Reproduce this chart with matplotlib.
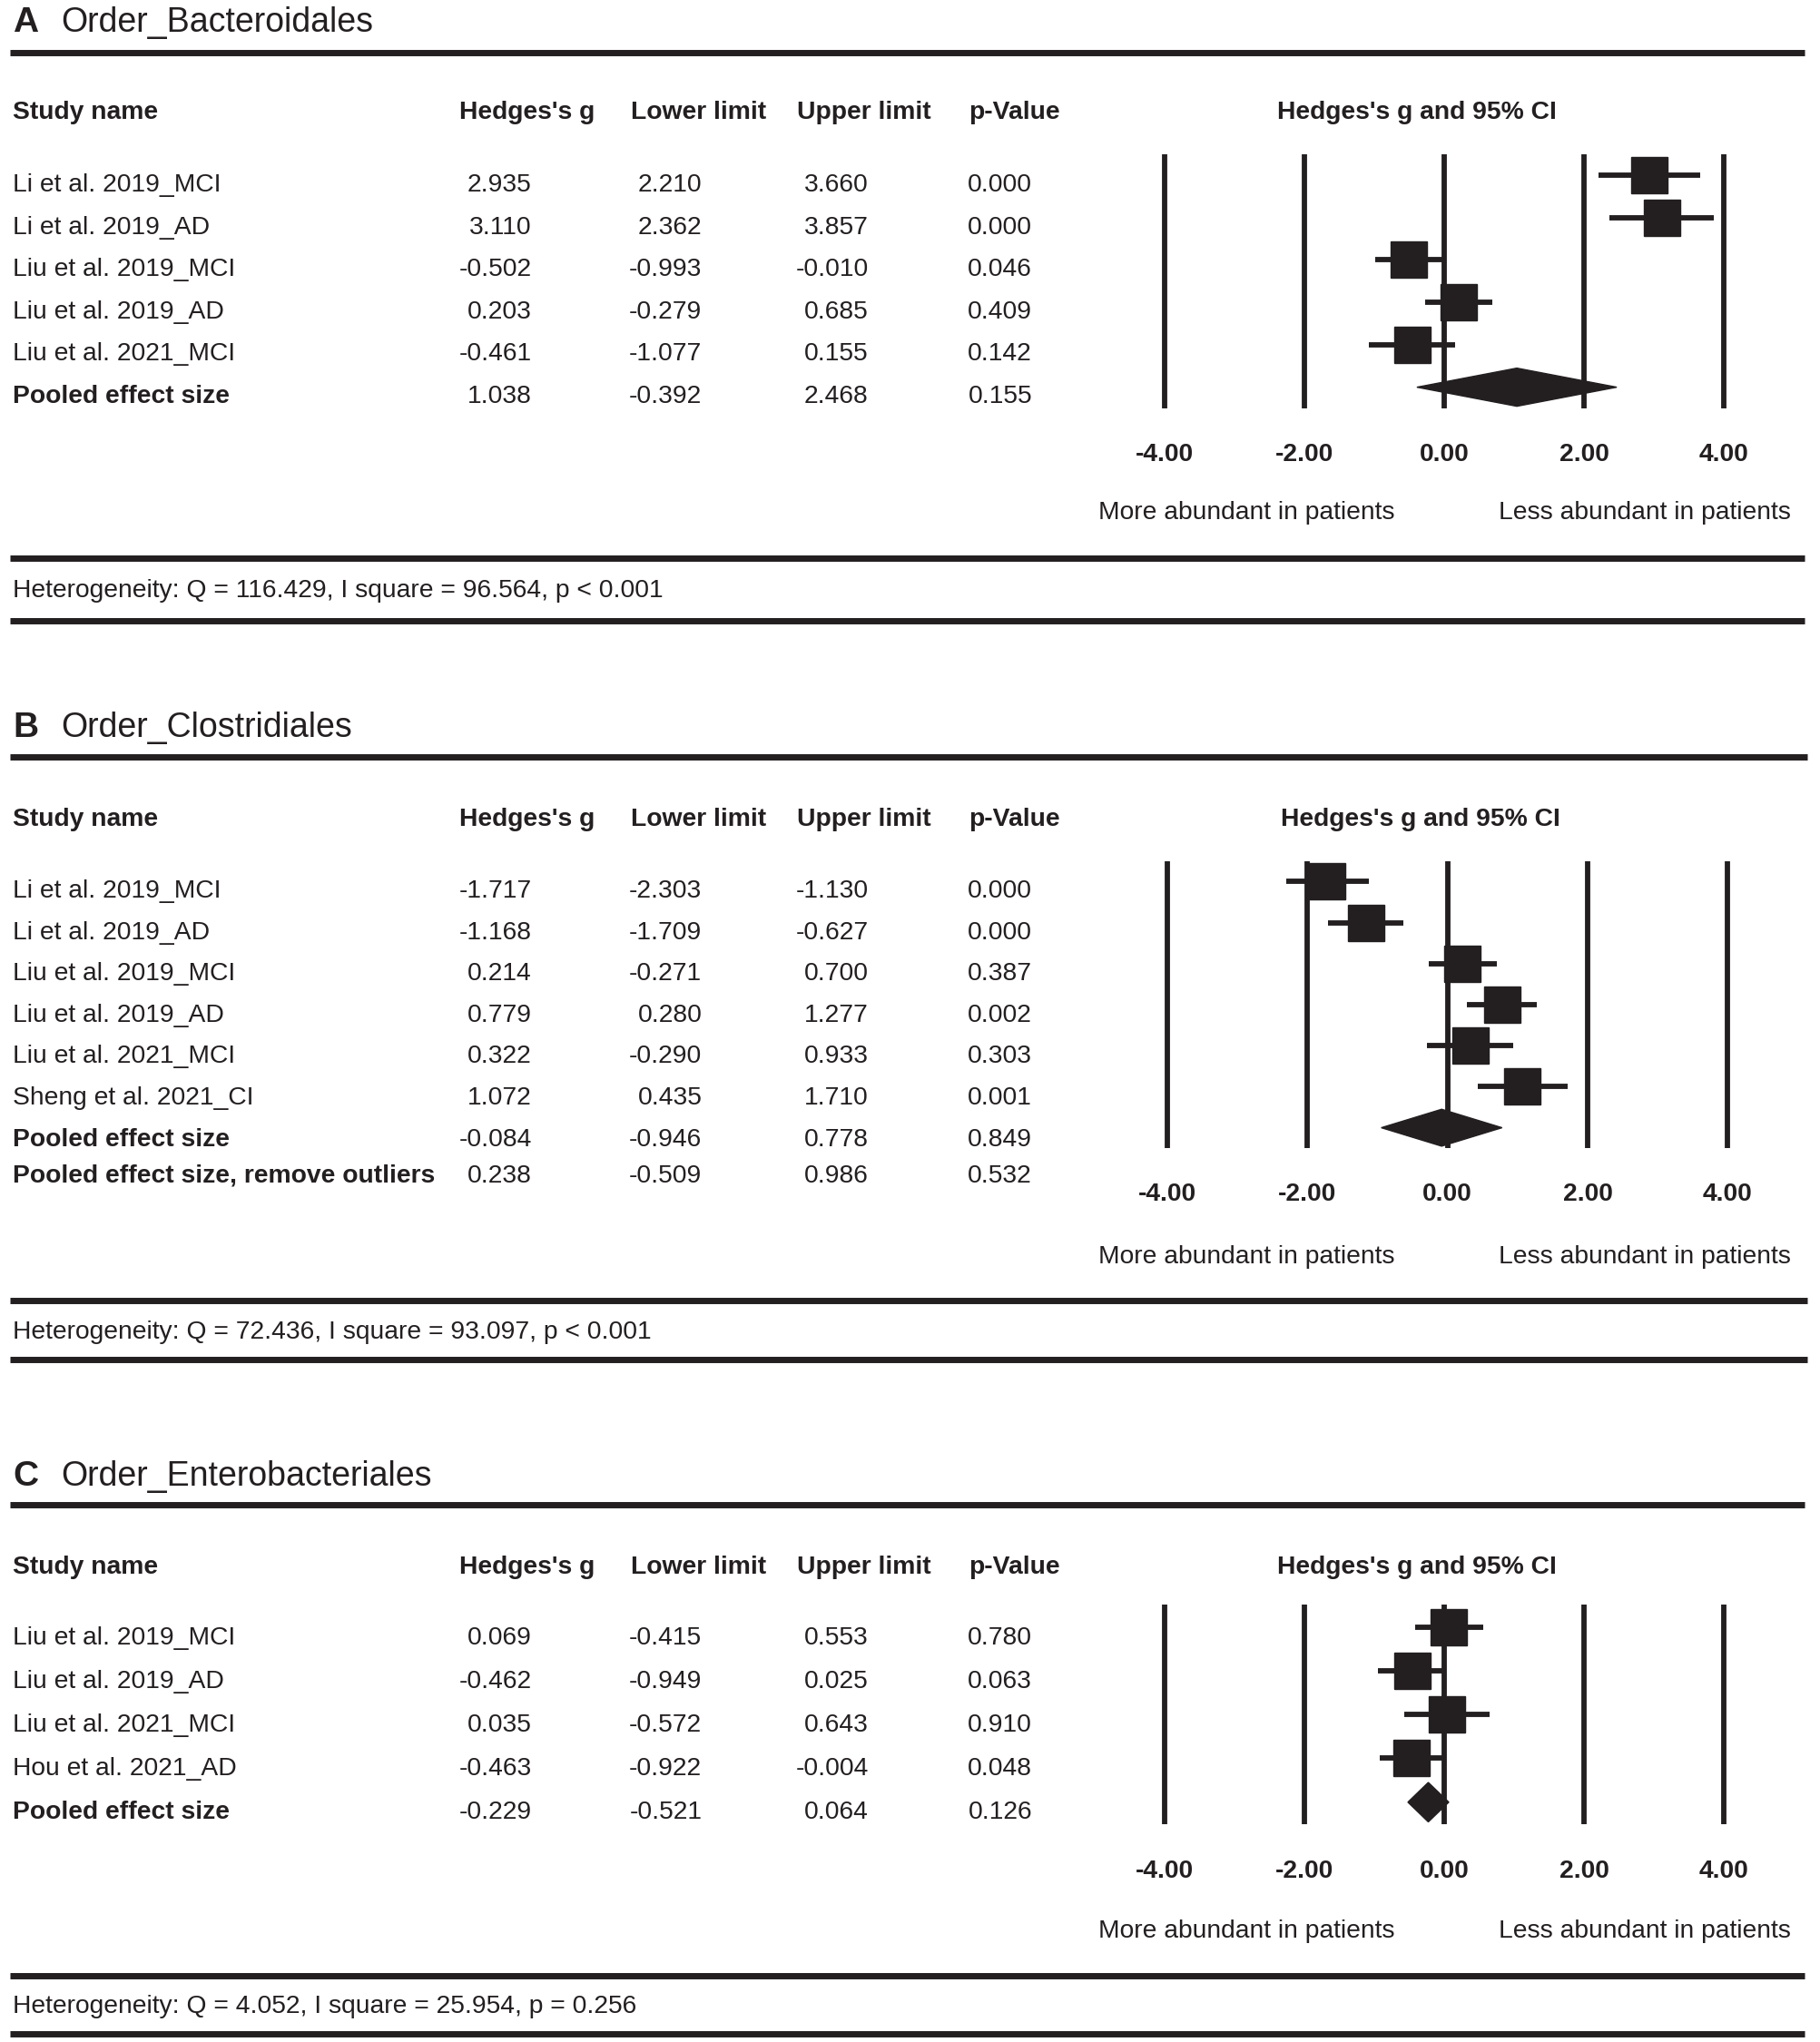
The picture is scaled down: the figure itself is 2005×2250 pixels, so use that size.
import matplotlib
matplotlib.use('Agg')
import matplotlib.pyplot as plt
from matplotlib.lines import Line2D
from matplotlib.patches import Polygon

plt.rcParams['font.family'] = ['Liberation Sans', 'DejaVu Sans']

INK = '#231f20'

# ---- data ----
a_title = 'Order_Bacteroidales'
a_studies = ['Li et al. 2019_MCI', 'Li et al. 2019_AD', 'Liu et al. 2019_MCI',
             'Liu et al. 2019_AD', 'Liu et al. 2021_MCI']
a_g = [2.935, 3.110, -0.502, 0.203, -0.461]
a_lo = [2.210, 2.362, -0.993, -0.279, -1.077]
a_hi = [3.660, 3.857, -0.010, 0.685, 0.155]
a_p = [0.000, 0.000, 0.046, 0.409, 0.142]
a_pooled = [1.038, -0.392, 2.468, 0.155]
a_het = 'Heterogeneity: Q = 116.429, I square = 96.564, p < 0.001'

b_title = 'Order_Clostridiales'
b_studies = ['Li et al. 2019_MCI', 'Li et al. 2019_AD', 'Liu et al. 2019_MCI',
             'Liu et al. 2019_AD', 'Liu et al. 2021_MCI', 'Sheng et al. 2021_CI']
b_g = [-1.717, -1.168, 0.214, 0.779, 0.322, 1.072]
b_lo = [-2.303, -1.709, -0.271, 0.280, -0.290, 0.435]
b_hi = [-1.130, -0.627, 0.700, 1.277, 0.933, 1.710]
b_p = [0.000, 0.000, 0.387, 0.002, 0.303, 0.001]
b_pooled = [-0.084, -0.946, 0.778, 0.849]
b_pooled_no_outliers = [0.238, -0.509, 0.986, 0.532]
b_het = 'Heterogeneity: Q = 72.436, I square = 93.097, p < 0.001'

c_title = 'Order_Enterobacteriales'
c_studies = ['Liu et al. 2019_MCI', 'Liu et al. 2019_AD', 'Liu et al. 2021_MCI',
             'Hou et al. 2021_AD']
c_g = [0.069, -0.462, 0.035, -0.463]
c_lo = [-0.415, -0.949, -0.572, -0.922]
c_hi = [0.553, 0.025, 0.643, -0.004]
c_p = [0.780, 0.063, 0.910, 0.048]
c_pooled = [-0.229, -0.521, 0.064, 0.126]
c_het = 'Heterogeneity: Q = 4.052, I square = 25.954, p = 0.256'

ticks = [-4, -2, 0, 2, 4]

# ---- layout (reference grid 1400 x 1565) ----
W, H = 1400.0, 1565.0


def fx(x):
    return x / W


def fy(y):
    return 1 - y / H


fig = plt.figure(figsize=(20.05, 22.5), dpi=100)

FS = 20.3
TFS = 27
BASE = 7      # baseline offset for body text
TBASE = 9.5


def rule(y, x1=1388):
    fig.add_artist(Line2D([fx(8), fx(x1)], [fy(y), fy(y)], transform=fig.transFigure,
                          color=INK, lw=5, solid_capstyle='butt'))


def txt(x, y, s, ha='left', bold=False, size=FS, base=BASE):
    fig.text(fx(x), fy(y + base), s, ha=ha, va='baseline', fontsize=size,
             color=INK, fontweight='bold' if bold else 'normal')


def panel(letter, title, studies, g, lo, hi, p, pooled, het, L, extra=None):
    txt(10, L['top'], letter, bold=True, size=TFS + 1, base=TBASE)
    txt(47, L['top'], title, size=TFS, base=TBASE)
    rule(L['rule1'], L['rx'])

    hy = L['head']
    txt(10, hy, 'Study name', bold=True)
    txt(353, hy, "Hedges's g", bold=True)
    txt(485, hy, 'Lower limit', bold=True)
    txt(613, hy, 'Upper limit', bold=True)
    txt(745, hy, 'p-Value', bold=True)
    txt(L['ci_x'], hy, "Hedges's g and 95% CI", ha='center', bold=True)

    rows = [(s, a, b, c, d, False) for s, a, b, c, d in zip(studies, g, lo, hi, p)]
    rows.append(('Pooled effect size', *pooled, True))
    for i, (s, a, b, c, d, bold) in enumerate(rows):
        y = L['row0'] + i * L['step']
        txt(10, y, s, bold=bold)
        txt(409, y, f'{a:.3f}', ha='right')
        txt(540, y, f'{b:.3f}', ha='right')
        txt(668, y, f'{c:.3f}', ha='right')
        txt(794, y, f'{d:.3f}', ha='right')
    if extra is not None:
        y = L['extra_y']
        txt(10, y, 'Pooled effect size, remove outliers', bold=True)
        txt(409, y, f'{extra[0]:.3f}', ha='right')
        txt(540, y, f'{extra[1]:.3f}', ha='right')
        txt(668, y, f'{extra[2]:.3f}', ha='right')
        txt(794, y, f'{extra[3]:.3f}', ha='right')

    # forest axes
    unit = (L['x4'] - L['xm4']) / 8.0
    left = L['xm4'] - 0.6 * unit
    ax = fig.add_axes([fx(left), fy(L['fbot']), 9.2 * unit / W,
                       (L['fbot'] - L['ftop']) / H])
    n = len(studies) + 1
    ax.set_xlim(-4.6, 4.6)
    ax.set_ylim(n - 0.5, -0.5)
    for t in ticks:
        ax.axvline(t, color=INK, lw=4.2, zorder=1)
    for i in range(len(studies)):
        ax.plot([lo[i], hi[i]], [i, i], color=INK, lw=4.2, zorder=2,
                solid_capstyle='butt')
        ax.plot(g[i], i, 's', ms=29, color=INK, mec=INK, zorder=3)
    pg, plo, phi = pooled[0], pooled[1], pooled[2]
    k = len(studies)
    h = 0.45
    ax.add_patch(Polygon([(plo, k), (pg, k - h), (phi, k), (pg, k + h)],
                         closed=True, color=INK, zorder=3))
    for sp in ax.spines.values():
        sp.set_visible(False)
    ax.set_yticks([])
    ax.set_xticks(ticks, labels=[f'{t:.2f}' for t in ticks])
    ax.tick_params(axis='x', length=0, pad=L['pad'], labelsize=FS, labelcolor=INK)
    for lab in ax.get_xticklabels():
        lab.set_fontweight('bold')
    ax.patch.set_alpha(0)

    txt(959, L['side'], 'More abundant in patients', ha='center')
    txt(1265, L['side'], 'Less abundant in patients', ha='center')
    rule(L['rule2'], L['rx'])
    txt(10, L['het'], het)
    rule(L['rule3'], L['rx'])


layout_a = dict(top=15, rule1=40, head=84, row0=140, step=32.3, xm4=896, x4=1326,
                ftop=118, fbot=313, pad=27, side=391, rule2=428, het=451,
                rule3=476, ci_x=1090, rx=1388)
layout_b = dict(top=555, rule1=580, head=626, row0=681, step=31.7, xm4=898, x4=1329,
                ftop=660, fbot=880, pad=27, side=961, rule2=997, het=1019,
                rule3=1042, ci_x=1093, rx=1390, extra_y=899)
layout_c = dict(top=1129, rule1=1153, head=1199, row0=1253, step=33.5, xm4=896, x4=1326,
                ftop=1230, fbot=1398, pad=28, side=1478, rule2=1514, het=1536,
                rule3=1559, ci_x=1090, rx=1388)

panel('A', a_title, a_studies, a_g, a_lo, a_hi, a_p, a_pooled, a_het, layout_a)
panel('B', b_title, b_studies, b_g, b_lo, b_hi, b_p, b_pooled, b_het, layout_b,
      extra=b_pooled_no_outliers)
panel('C', c_title, c_studies, c_g, c_lo, c_hi, c_p, c_pooled, c_het, layout_c)

fig.savefig('out.png', dpi=100, facecolor='white')
